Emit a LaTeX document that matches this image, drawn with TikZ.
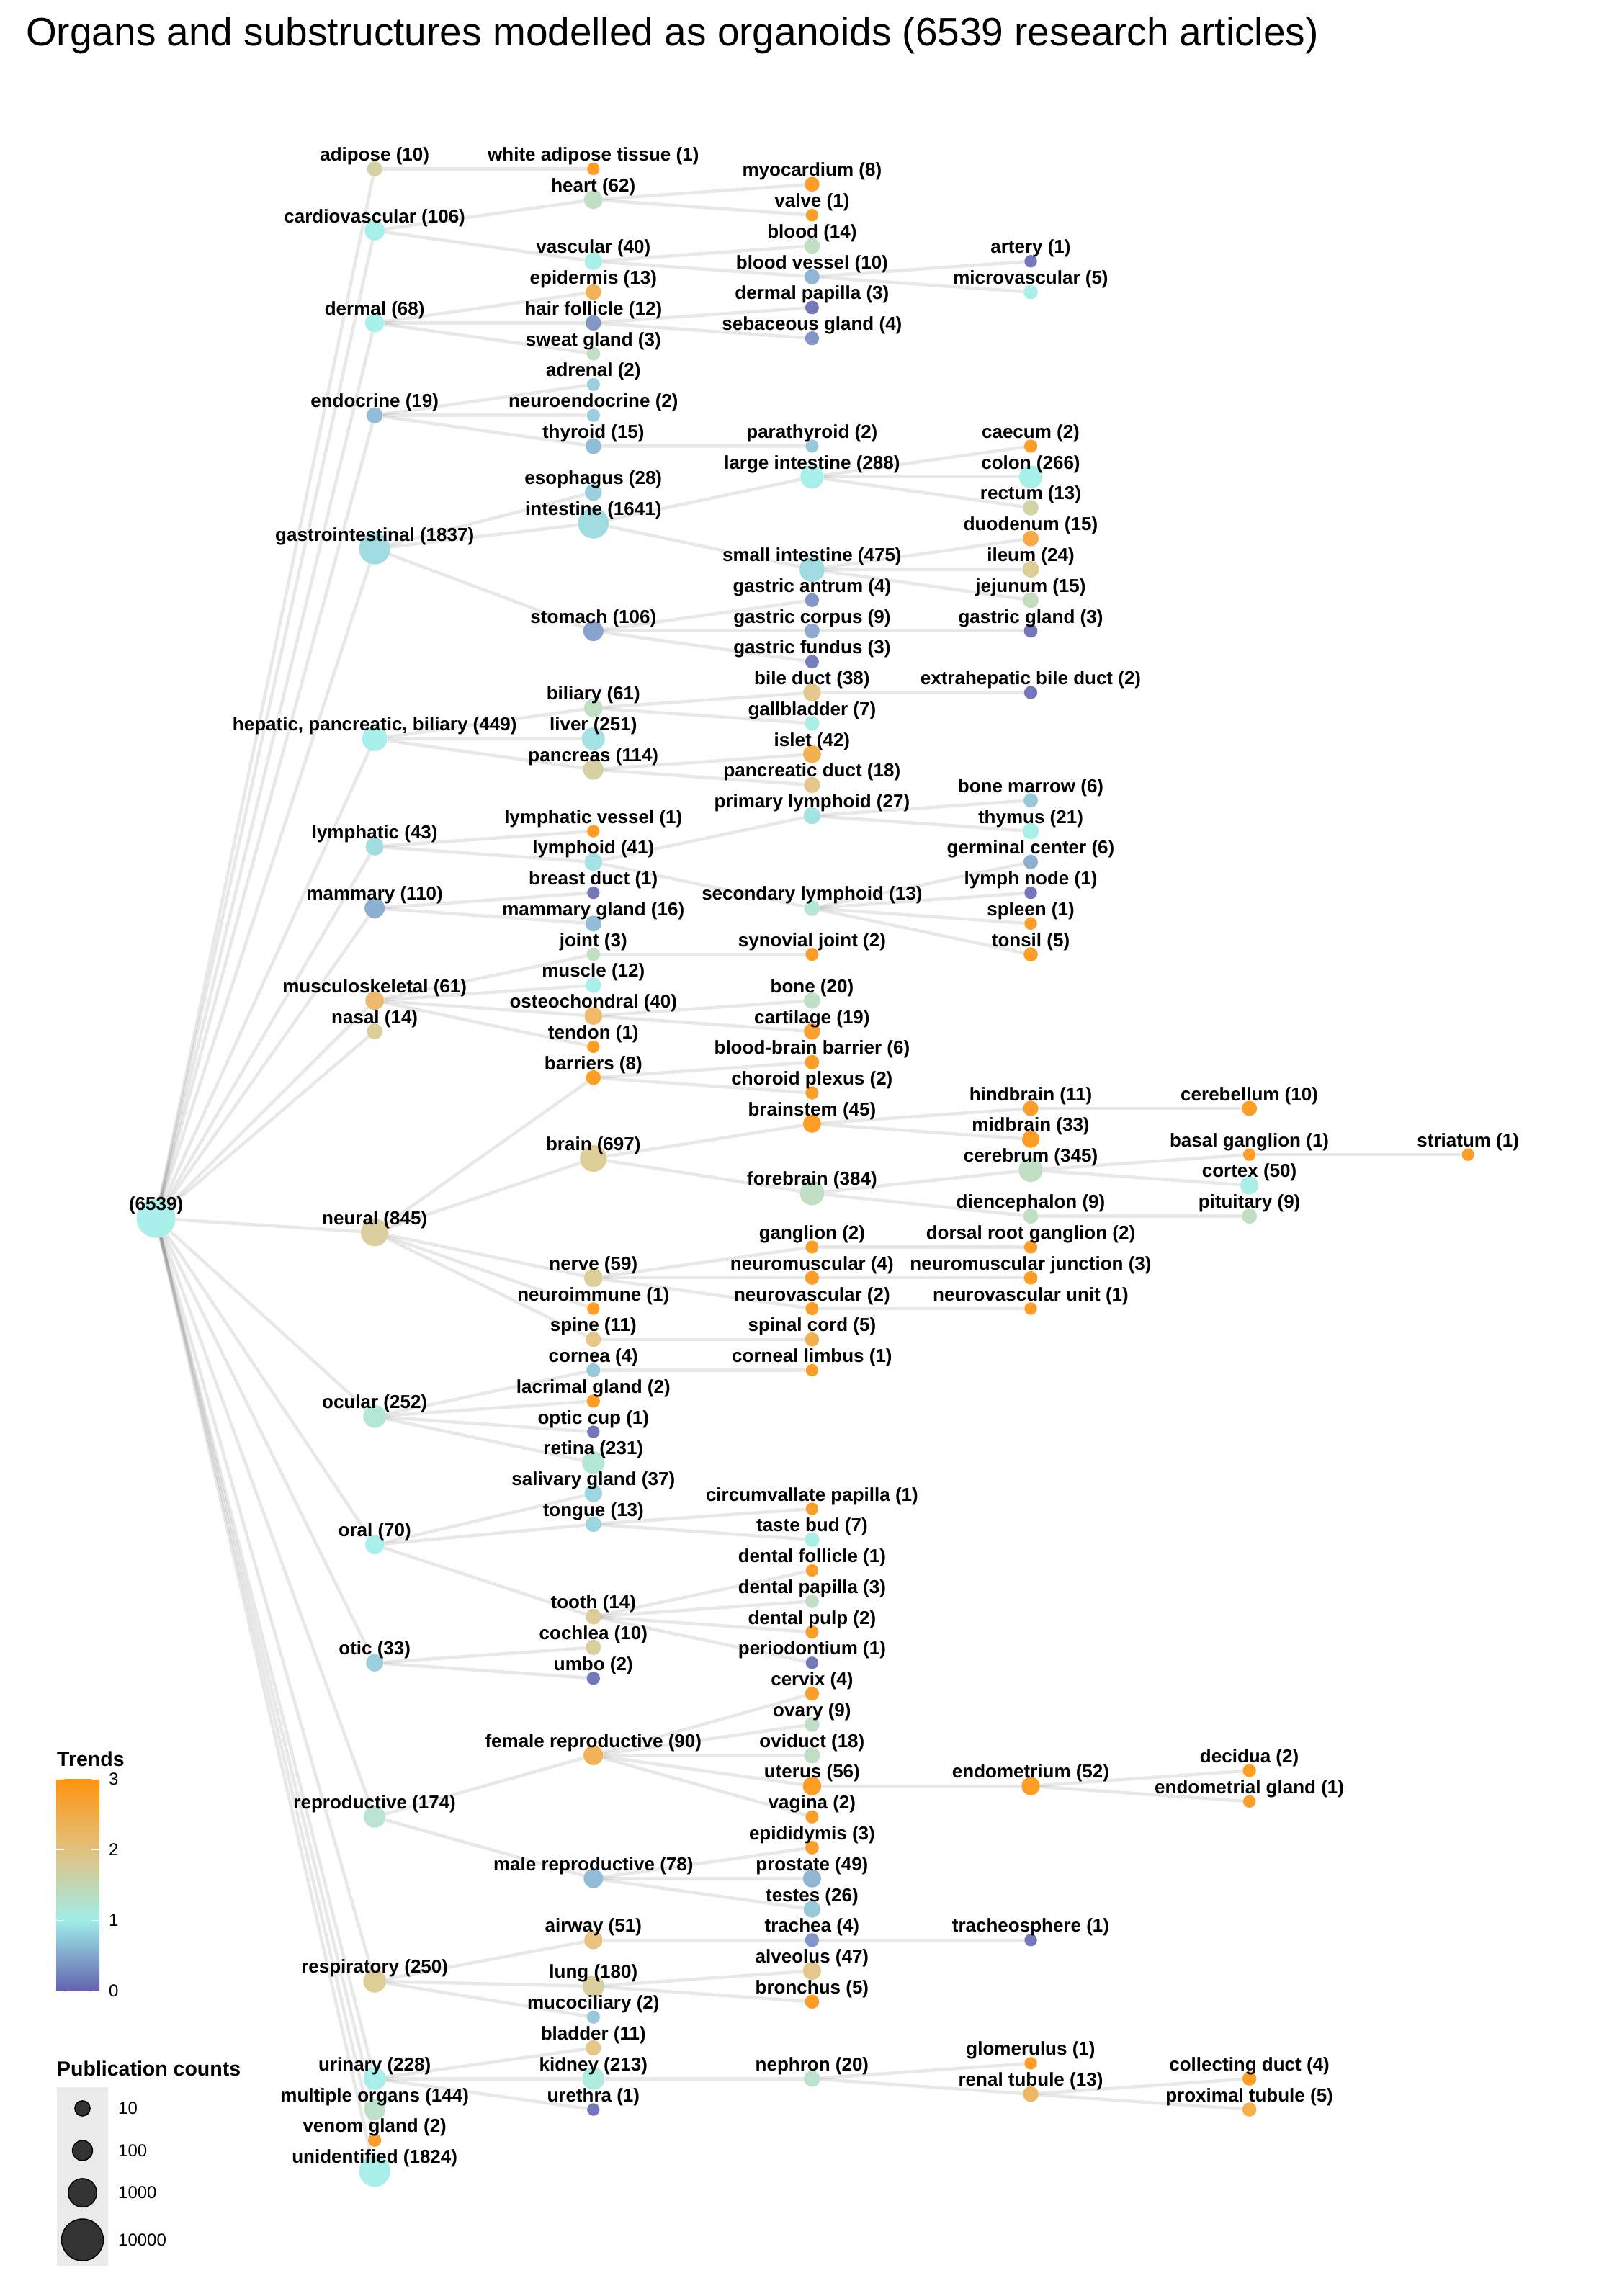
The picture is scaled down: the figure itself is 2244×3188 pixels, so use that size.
\documentclass[tikz,border=0pt]{standalone}
\usepackage{fontspec}
\setmainfont{Liberation Sans}
\usetikzlibrary{backgrounds}

\definecolor{trendA}{HTML}{6262B0}
\definecolor{trendB}{HTML}{A0EDE8}
\definecolor{trendC}{HTML}{E2C17E}
\definecolor{trendD}{HTML}{FF9410}
\definecolor{keybg}{HTML}{EBEBEB}

% id/parent/level/row/trend/count/label
\newcommand\organs{%
  adip/root/1/0/1.75/10/{adipose (10)},
  cardio/root/1/4/1.0/106/{cardiovascular (106)},
  dermal/root/1/10/1.0/68/{dermal (68)},
  endo/root/1/16/0.6/19/{endocrine (19)},
  gi/root/1/24.667/0.85/1837/{gastrointestinal (1837)},
  hpb/root/1/37/1.0/449/{hepatic, pancreatic, biliary (449)},
  lymphatic/root/1/44/0.85/43/{lymphatic (43)},
  mammary/root/1/48/0.5/110/{mammary (110)},
  msk/root/1/54/2.3/61/{musculoskeletal (61)},
  nasal/root/1/56/1.85/14/{nasal (14)},
  neural/root/1/69.05/1.8/845/{neural (845)},
  ocular/root/1/81/1.2/252/{ocular (252)},
  oral/root/1/89.333/1.0/70/{oral (70)},
  otic/root/1/97/0.75/33/{otic (33)},
  repro/root/1/107/1.25/174/{reproductive (174)},
  resp/root/1/117.667/1.85/250/{respiratory (250)},
  urinary/root/1/124/1.0/228/{urinary (228)},
  multorg/root/1/126/1.35/144/{multiple organs (144)},
  venom/root/1/128/3/2/{venom gland (2)},
  unident/root/1/130/1.0/1824/{unidentified (1824)},
  wat/adip/2/0/3/1/{white adipose tissue (1)},
  heart/cardio/2/2/1.4/62/{heart (62)},
  vasc/cardio/2/6/1.0/40/{vascular (40)},
  epid/dermal/2/8/2.5/13/{epidermis (13)},
  hairf/dermal/2/10/0.3/12/{hair follicle (12)},
  sweat/dermal/2/12/1.4/3/{sweat gland (3)},
  adrenal/endo/2/14/0.75/2/{adrenal (2)},
  neuroendo/endo/2/16/0.75/2/{neuroendocrine (2)},
  thyroid/endo/2/18/0.6/15/{thyroid (15)},
  esoph/gi/2/21/0.75/28/{esophagus (28)},
  intest/gi/2/23/0.85/1641/{intestine (1641)},
  stomach/gi/2/30/0.4/106/{stomach (106)},
  biliary/hpb/2/35/1.4/61/{biliary (61)},
  liver/hpb/2/37/0.9/251/{liver (251)},
  pancreas/hpb/2/39/1.75/114/{pancreas (114)},
  lymvessel/lymphatic/2/43/3/1/{lymphatic vessel (1)},
  lymphoid/lymphatic/2/45/0.9/41/{lymphoid (41)},
  breastduct/mammary/2/47/0.05/1/{breast duct (1)},
  mamgland/mammary/2/49/0.6/16/{mammary gland (16)},
  joint/msk/2/51/1.4/3/{joint (3)},
  muscle/msk/2/53/1.0/12/{muscle (12)},
  osteo/msk/2/55/2.35/40/{osteochondral (40)},
  tendon/msk/2/57/3/1/{tendon (1)},
  barriers/neural/2/59/3/8/{barriers (8)},
  brain/neural/2/64.25/1.85/697/{brain (697)},
  nerve/neural/2/72/1.85/59/{nerve (59)},
  neuroimm/neural/2/74/3/1/{neuroimmune (1)},
  spine/neural/2/76/2.0/11/{spine (11)},
  cornea/ocular/2/78/0.7/4/{cornea (4)},
  lacrimal/ocular/2/80/3/2/{lacrimal gland (2)},
  opticcup/ocular/2/82/0.05/1/{optic cup (1)},
  retina/ocular/2/84/1.2/231/{retina (231)},
  salivary/oral/2/86/0.8/37/{salivary gland (37)},
  tongue/oral/2/88/0.8/13/{tongue (13)},
  tooth/oral/2/94/1.85/14/{tooth (14)},
  cochlea/otic/2/96/1.8/10/{cochlea (10)},
  umbo/otic/2/98/0.05/2/{umbo (2)},
  femrep/repro/2/103/2.5/90/{female reproductive (90)},
  malerep/repro/2/111/0.6/78/{male reproductive (78)},
  airway/resp/2/115/2.1/51/{airway (51)},
  lung/resp/2/118/1.8/180/{lung (180)},
  mucocil/resp/2/120/0.7/2/{mucociliary (2)},
  bladder/urinary/2/122/2.0/11/{bladder (11)},
  kidney/urinary/2/124/1.1/213/{kidney (213)},
  urethra/urinary/2/126/0.05/1/{urethra (1)},
  myoc/heart/3/1/3/8/{myocardium (8)},
  valve/heart/3/3/3/1/{valve (1)},
  blood/vasc/3/5/1.4/14/{blood (14)},
  bvessel/vasc/3/7/0.55/10/{blood vessel (10)},
  dpap/hairf/3/9/0.05/3/{dermal papilla (3)},
  sebg/hairf/3/11/0.3/4/{sebaceous gland (4)},
  parathy/thyroid/3/18/0.7/2/{parathyroid (2)},
  lint/intest/3/20/1.0/288/{large intestine (288)},
  sint/intest/3/26/0.85/475/{small intestine (475)},
  gantrum/stomach/3/28/0.3/4/{gastric antrum (4)},
  gcorpus/stomach/3/30/0.45/9/{gastric corpus (9)},
  gfundus/stomach/3/32/0.1/3/{gastric fundus (3)},
  bileduct/biliary/3/34/2.0/38/{bile duct (38)},
  gallbl/biliary/3/36/1.0/7/{gallbladder (7)},
  islet/pancreas/3/38/2.6/42/{islet (42)},
  pancduct/pancreas/3/40/2.0/18/{pancreatic duct (18)},
  primlym/lymphoid/3/42/0.9/27/{primary lymphoid (27)},
  seclym/lymphoid/3/48/1.2/13/{secondary lymphoid (13)},
  synjoint/joint/3/51/3/2/{synovial joint (2)},
  bone/osteo/3/54/1.4/20/{bone (20)},
  cartilage/osteo/3/56/2.95/19/{cartilage (19)},
  bbb/barriers/3/58/3/6/{blood-brain barrier (6)},
  chplexus/barriers/3/60/3/2/{choroid plexus (2)},
  brainstem/brain/3/62/3/45/{brainstem (45)},
  forebrain/brain/3/66.5/1.4/384/{forebrain (384)},
  ganglion/nerve/3/70/3/2/{ganglion (2)},
  neuromusc/nerve/3/72/3/4/{neuromuscular (4)},
  neurovasc/nerve/3/74/3/2/{neurovascular (2)},
  spinalcord/spine/3/76/2.6/5/{spinal cord (5)},
  climbus/cornea/3/78/3/1/{corneal limbus (1)},
  circumv/tongue/3/87/3/1/{circumvallate papilla (1)},
  tastebud/tongue/3/89/1.0/7/{taste bud (7)},
  dfollicle/tooth/3/91/3/1/{dental follicle (1)},
  dpapilla/tooth/3/93/1.4/3/{dental papilla (3)},
  dpulp/tooth/3/95/3/2/{dental pulp (2)},
  periodont/tooth/3/97/0.05/1/{periodontium (1)},
  cervix/femrep/3/99/3/4/{cervix (4)},
  ovary/femrep/3/101/1.4/9/{ovary (9)},
  oviduct/femrep/3/103/1.4/18/{oviduct (18)},
  uterus/femrep/3/105/3/56/{uterus (56)},
  vagina/femrep/3/107/3/2/{vagina (2)},
  epidid/malerep/3/109/3/3/{epididymis (3)},
  prostate/malerep/3/111/0.55/49/{prostate (49)},
  testes/malerep/3/113/0.7/26/{testes (26)},
  trachea/airway/3/115/0.3/4/{trachea (4)},
  alveolus/lung/3/117/2.0/47/{alveolus (47)},
  bronchus/lung/3/119/3/5/{bronchus (5)},
  nephron/kidney/3/124/1.3/20/{nephron (20)},
  artery/bvessel/4/6/0.05/1/{artery (1)},
  microv/bvessel/4/8/1.0/5/{microvascular (5)},
  caecum/lint/4/18/3/2/{caecum (2)},
  colon/lint/4/20/1.0/266/{colon (266)},
  rectum/lint/4/22/1.7/13/{rectum (13)},
  duoden/sint/4/24/2.7/15/{duodenum (15)},
  ileum/sint/4/26/1.85/24/{ileum (24)},
  jejun/sint/4/28/1.45/15/{jejunum (15)},
  ggland/gcorpus/4/30/0.05/3/{gastric gland (3)},
  extrabd/bileduct/4/34/0.05/2/{extrahepatic bile duct (2)},
  bonemarrow/primlym/4/41/0.7/6/{bone marrow (6)},
  thymus/primlym/4/43/1.0/21/{thymus (21)},
  germc/seclym/4/45/0.5/6/{germinal center (6)},
  lymphnode/seclym/4/47/0.05/1/{lymph node (1)},
  spleen/seclym/4/49/3/1/{spleen (1)},
  tonsil/seclym/4/51/3/5/{tonsil (5)},
  hindbrain/brainstem/4/61/3/11/{hindbrain (11)},
  midbrain/brainstem/4/63/3/33/{midbrain (33)},
  cerebrum/forebrain/4/65/1.4/345/{cerebrum (345)},
  dienceph/forebrain/4/68/1.4/9/{diencephalon (9)},
  drg/ganglion/4/70/3/2/{dorsal root ganglion (2)},
  nmj/neuromusc/4/72/3/3/{neuromuscular junction (3)},
  nvu/neurovasc/4/74/3/1/{neurovascular unit (1)},
  endomet/uterus/4/105/3/52/{endometrium (52)},
  trachsph/trachea/4/115/0.05/1/{tracheosphere (1)},
  glomer/nephron/4/123/3/1/{glomerulus (1)},
  rtubule/nephron/4/125/2.4/13/{renal tubule (13)},
  cerebellum/hindbrain/5/61/3/10/{cerebellum (10)},
  basalg/cerebrum/5/64/3/1/{basal ganglion (1)},
  cortex/cerebrum/5/66/1.05/50/{cortex (50)},
  pituitary/dienceph/5/68/1.4/9/{pituitary (9)},
  decidua/endomet/5/104/3/2/{decidua (2)},
  endgland/endomet/5/106/3/1/{endometrial gland (1)},
  collduct/rtubule/5/124/3/4/{collecting duct (4)},
  proxtub/rtubule/5/126/2.6/5/{proximal tubule (5)},
  striatum/basalg/6/64/3/1/{striatum (1)}%
}

\begin{document}
\begin{tikzpicture}[x=1pt, y=-1pt,
  organ/.style={circle, inner sep=0pt, fill opacity=0.9},
  cnt/.style={minimum size={sqrt(200+105*(#1)^0.37)}},
  trend/.code={%
    \pgfmathsetmacro\trendval{#1}%
    \ifdim\trendval pt<1pt
      \pgfmathsetmacro\trendpct{100*\trendval}\colorlet{orgfill}{trendB!\trendpct!trendA}%
    \else\ifdim\trendval pt<2pt
      \pgfmathsetmacro\trendpct{100*(\trendval-1)}\colorlet{orgfill}{trendC!\trendpct!trendB}%
    \else
      \pgfmathsetmacro\trendpct{100*(\trendval-2)}\colorlet{orgfill}{trendD!\trendpct!trendC}%
    \fi\fi
    \pgfkeysalso{fill=orgfill}},
  treeline/.style={line width=4.5pt, draw=black, draw opacity=0.09},
  lbl/.style={anchor=base, inner sep=0pt, font=\fontsize{26}{30}\selectfont\bfseries},
  keytitle/.style={anchor=base west, inner sep=0pt, font=\fontsize{28.5}{32}\selectfont\bfseries},
  keytick/.style={anchor=west, inner sep=0pt, font=\fontsize{24}{28}\selectfont}]
  \def\colx{303.6}  % column step
  \def\rowy{21.385} % half-row step
  \useasboundingbox (0,0) rectangle (2244,3188);

  % title
  \node[anchor=base west, inner sep=0pt, font=\fontsize{55}{62}\selectfont] (title) at (36,63)
    {Organs and substructures modelled as organoids (6539 research articles)};

  % circles
  \node[organ, cnt=6539, trend=1] (root) at (216.6,{234.5+\rowy*68.14}) {};
  \foreach \id/\up/\lv/\kk/\trd/\cnt/\txt in \organs
    \node[organ, cnt=\cnt, trend=\trd] (\id) at ({216.6+\colx*\lv},{234.5+\rowy*\kk}) {};

  % tree lines behind the circles
  \begin{scope}[on background layer]
    \foreach \id/\up/\lv/\kk/\trd/\cnt/\txt in \organs
      \draw[treeline] (\up) -- (\id);
  \end{scope}

  % labels
  \node[lbl] (root-l) at ([yshift=11pt]root.center) {(6539)};
  \foreach \id/\up/\lv/\kk/\trd/\cnt/\txt in \organs
    \node[lbl] (\id-l) at ([yshift=11pt]\id.center) {\txt};

  % colour key
  \node[keytitle] (trendhead) at (79,2452) {Trends};
  \shade[bottom color=trendA, top color=trendB] (78,2665.8) rectangle (138,2764.5);
  \shade[bottom color=trendB, top color=trendC] (78,2567.7) rectangle (138,2666.5);
  \shade[bottom color=trendC, top color=trendD] (78,2470) rectangle (138,2568.4);
  \foreach \t in {0,...,3} {
    \draw[white, line width=1.5pt] (78,{2764.5-98.17*\t}) -- ++(11,0) (127,{2764.5-98.17*\t}) -- ++(11,0);
    \node[keytick] (tick\t) at (151,{2764.5-98.17*\t}) {\t};
  }

  % size key
  \node[keytitle] (counthead) at (79,2882) {Publication counts};
  \fill[keybg] (79,2898) rectangle (150,3145.5);
  \foreach \c/\yy in {10/2927.4, 100/2986, 1000/3044.6, 10000/3110} {
    \node[organ, cnt=\c, fill=black!80, draw=black, line width=1.5pt, fill opacity=1] (key\c) at (114.5,\yy) {};
    \node[keytick] (key\c-l) at (164,\yy) {\c};
  }
\end{tikzpicture}
\end{document}
